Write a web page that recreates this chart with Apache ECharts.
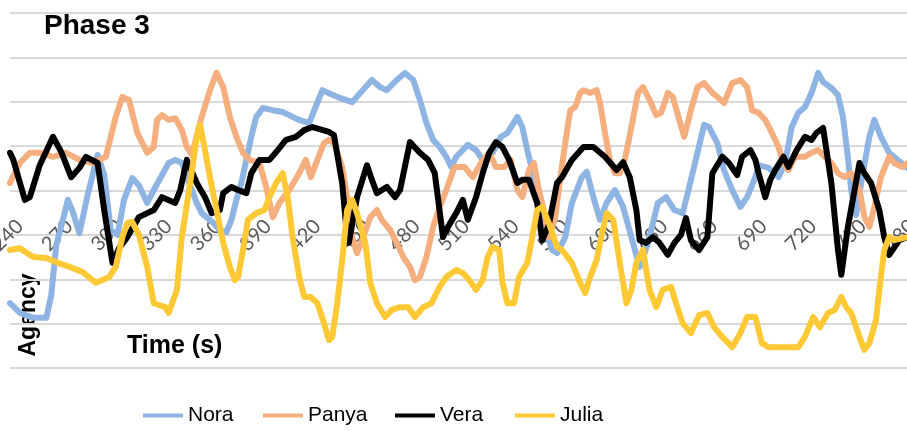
<!DOCTYPE html>
<html><head><meta charset="utf-8">
<script src="https://cdn.jsdelivr.net/npm/echarts@6/dist/echarts.min.js"></script>
<style>html,body{margin:0;padding:0;background:#fff}#c{width:907px;height:431px}</style>
</head><body><div id="c"></div>
<script>
const tickLabels = [240,270,300,330,360,390,420,450,480,510,540,570,600,630,660,690,720,750,780];
const seriesNames = ['Nora','Panya','Vera','Julia'];

const nora = [[234,1.46],[240,1.24],[248,1.13],[256,1.13],[259,1.65],[262,2.77],[266,3.34],[269,3.79],[272,3.52],[276,3.04],[281,3.90],[287,4.80],[291,4.35],[295,3.11],[299,3.00],[303,3.79],[308,4.28],[312,4.12],[317,3.72],[321,4.01],[326,4.35],[330,4.62],[334,4.69],[338,4.62],[341,4.30],[347,3.72],[350,3.49],[357,3.27],[361,3.11],[365,3.06],[368,3.34],[371,3.79],[374,4.17],[377,4.69],[380,5.21],[383,5.66],[387,5.86],[393,5.81],[399,5.77],[405,5.66],[409,5.59],[415,5.52],[423,6.26],[432,6.11],[441,5.99],[446,6.20],[453,6.49],[458,6.33],[462,6.26],[468,6.49],[473,6.65],[478,6.49],[482,6.04],[486,5.52],[490,5.14],[494,4.98],[498,4.76],[501,4.53],[504,4.76],[511,5.03],[516,4.91],[520,4.69],[526,4.85],[531,5.21],[535,5.30],[541,5.66],[544,5.43],[547,4.91],[551,4.30],[554,3.72],[558,3.11],[562,2.66],[565,2.59],[570,2.95],[574,3.72],[580,4.30],[583,4.42],[587,3.85],[591,3.34],[595,3.72],[600,4.01],[605,3.63],[610,2.95],[615,2.28],[618,2.59],[622,3.11],[626,3.72],[631,3.85],[636,3.56],[641,3.49],[645,4.08],[650,4.85],[654,5.48],[657,5.43],[662,5.07],[666,4.46],[671,4.01],[676,3.63],[680,3.85],[685,4.30],[687,4.57],[693,4.51],[699,4.30],[703,4.62],[707,5.43],[711,5.75],[715,5.88],[719,6.20],[723,6.65],[726,6.45],[731,6.31],[735,6.15],[738,5.66],[741,4.76],[743,4.01],[746,3.45],[749,4.17],[754,5.21],[757,5.59],[761,5.21],[766,4.85],[771,4.69],[777,4.51],[781,4.46]];

const panya = [[234,4.17],[240,4.62],[246,4.85],[252,4.85],[260,4.76],[268,4.85],[276,4.69],[284,4.62],[292,4.76],[298,5.66],[302,6.11],[306,6.04],[311,5.30],[317,4.85],[321,4.98],[323,5.59],[326,5.70],[330,5.59],[334,5.63],[338,5.36],[341,4.98],[344,4.80],[350,5.66],[355,6.26],[359,6.65],[363,6.33],[367,5.66],[371,5.21],[375,4.85],[379,4.69],[385,4.62],[389,4.08],[393,3.40],[397,3.72],[403,4.01],[409,4.39],[413,4.69],[416,4.30],[420,4.69],[424,5.07],[427,5.14],[430,5.07],[435,4.53],[438,3.85],[441,2.95],[444,2.59],[447,2.88],[452,3.40],[456,3.56],[459,3.34],[464,3.11],[468,2.82],[472,2.50],[476,2.28],[479,1.98],[482,2.05],[486,2.50],[490,3.18],[494,3.63],[498,4.01],[503,4.53],[509,4.53],[514,4.30],[519,4.62],[524,4.85],[528,4.53],[533,4.53],[537,4.69],[541,4.01],[544,3.85],[548,4.46],[551,4.62],[554,4.01],[558,3.40],[560,2.95],[564,3.40],[567,4.30],[570,5.07],[573,5.81],[576,5.88],[579,6.20],[581,6.26],[585,6.20],[589,6.26],[591,5.97],[594,5.30],[597,4.69],[600,4.39],[603,4.39],[606,4.69],[610,5.43],[614,6.20],[617,6.33],[621,6.04],[625,5.70],[628,5.75],[632,6.20],[635,6.11],[639,5.59],[642,5.21],[646,5.81],[650,6.33],[654,6.42],[659,6.20],[662,6.11],[666,5.97],[671,6.42],[676,6.49],[680,6.33],[683,5.81],[687,5.75],[691,5.59],[695,5.30],[699,4.98],[702,4.62],[705,4.46],[709,4.76],[715,4.76],[719,4.85],[723,4.91],[727,4.76],[731,4.62],[735,4.39],[739,4.30],[743,4.39],[748,4.01],[751,3.40],[754,3.18],[757,3.63],[761,4.30],[766,4.76],[769,4.62],[774,4.53],[777,4.62],[781,4.69]];

const vera = [[234,4.85],[236,4.69],[243,3.79],[246,3.85],[252,4.57],[260,5.21],[265,4.87],[271,4.30],[276,4.51],[280,4.76],[287,4.62],[291,3.56],[296,2.37],[300,2.70],[305,2.95],[312,3.40],[321,3.56],[326,3.85],[334,3.72],[337,4.01],[341,4.69],[347,4.17],[352,3.85],[356,3.49],[361,3.56],[363,3.94],[368,4.08],[372,4.01],[377,3.94],[380,4.39],[385,4.69],[391,4.69],[396,4.91],[401,5.14],[407,5.21],[412,5.36],[417,5.43],[427,5.32],[430,5.25],[435,4.17],[438,2.95],[439,2.82],[444,3.85],[450,4.57],[453,4.24],[456,3.94],[462,4.08],[467,3.85],[470,4.01],[476,5.09],[482,4.85],[487,4.69],[491,4.39],[496,2.95],[499,3.18],[504,3.49],[508,3.79],[511,3.34],[516,3.85],[520,4.39],[524,4.85],[528,5.09],[532,4.98],[536,4.69],[541,4.17],[544,4.24],[548,4.24],[553,3.72],[556,2.88],[560,3.22],[565,4.17],[568,4.30],[574,4.69],[581,4.98],[587,4.98],[594,4.76],[601,4.46],[605,4.64],[609,4.30],[613,3.56],[615,2.88],[619,2.82],[623,2.95],[627,2.82],[632,2.55],[636,2.82],[640,3.00],[643,3.38],[646,2.88],[651,2.66],[656,2.95],[659,4.39],[665,4.76],[669,4.62],[674,4.35],[677,4.76],[682,4.91],[685,4.69],[687,4.39],[691,3.85],[694,4.24],[697,4.46],[702,4.76],[705,4.53],[710,4.91],[715,5.21],[719,5.14],[722,5.30],[726,5.41],[731,4.17],[735,2.66],[737,2.10],[741,3.18],[748,4.62],[751,4.39],[755,4.17],[760,3.56],[763,2.95],[766,2.55],[772,2.88],[777,2.95],[781,3.00]];

const julia = [[234,2.66],[240,2.70],[248,2.50],[256,2.48],[263,2.37],[270,2.28],[278,2.16],[286,1.92],[294,2.05],[298,2.28],[302,2.95],[305,3.27],[308,3.29],[312,3.00],[317,2.28],[321,1.46],[324,1.42],[328,1.37],[330,1.24],[335,1.76],[338,2.95],[343,4.17],[347,5.21],[349,5.48],[352,4.91],[355,4.30],[359,3.56],[363,2.82],[367,2.28],[370,1.98],[372,2.05],[375,2.66],[378,3.34],[383,3.49],[388,3.56],[391,3.85],[395,4.17],[399,4.39],[402,3.85],[405,2.95],[409,2.05],[412,1.60],[416,1.60],[420,1.46],[424,1.01],[427,0.63],[429,0.70],[432,1.46],[435,2.43],[438,3.56],[441,3.79],[444,3.49],[449,2.82],[452,1.92],[456,1.46],[461,1.15],[465,1.31],[470,1.37],[475,1.37],[479,1.15],[484,1.37],[489,1.46],[494,1.83],[498,2.05],[504,2.21],[508,2.14],[512,1.98],[516,1.76],[520,1.98],[523,2.50],[526,2.73],[530,2.66],[532,1.92],[535,1.46],[539,1.46],[542,2.05],[547,2.37],[550,2.95],[553,3.56],[556,3.63],[560,3.27],[565,2.73],[568,2.66],[574,2.37],[579,1.92],[582,1.69],[585,2.05],[589,2.43],[591,2.82],[595,3.49],[599,3.34],[603,2.37],[607,1.46],[610,1.76],[613,2.37],[617,2.66],[621,1.76],[625,1.37],[629,1.76],[634,1.83],[637,1.46],[641,1.01],[646,0.79],[651,1.19],[656,1.24],[660,0.92],[665,0.70],[671,0.47],[676,0.79],[680,1.15],[685,1.15],[689,0.56],[693,0.47],[711,0.47],[715,0.70],[720,1.15],[724,0.92],[729,1.24],[733,1.31],[737,1.60],[740,1.37],[743,1.24],[748,0.70],[751,0.41],[754,0.56],[758,1.08],[760,1.76],[763,2.66],[766,2.95],[769,2.88],[777,2.95],[781,3.00]];

const colors = ['#8EB4E3','#F5AE7E','#000000','#FFC936'];
const dataSets = [nora, panya, vera, julia];
const legendLefts = [143, 263, 395, 515];

const chart = echarts.init(document.getElementById('c'), null, {renderer:'canvas'});
chart.setOption({
  animation: false,
  backgroundColor: '#ffffff',
  grid: {left: 10, right: -7, top: 13, bottom: 63, containLabel: false, outerBoundsMode: 'none'},
  xAxis: {
    type: 'value', min: 234, max: 781,
    axisLine: {show: false}, axisTick: {show: false}, splitLine: {show: false},
    axisLabel: {
      customValues: tickLabels, rotate: 45, margin: -145, hideOverlap: false,
      color: '#595959', fontSize: 20, fontFamily: 'Lato, "Liberation Sans", sans-serif'
    }
  },
  yAxis: {
    type: 'value', min: 0, max: 8, interval: 1,
    axisLine: {show: false}, axisTick: {show: false}, axisLabel: {show: false},
    splitLine: {lineStyle: {color: '#D9D9D9', width: 2}}
  },
  legend: seriesNames.map((n, i) => ({
    data: [{name: n, icon: 'rect'}], left: legendLefts[i], top: 405, padding: 0, itemGap: 4,
    itemWidth: 40, itemHeight: 4,
    textStyle: {fontSize: 21, color: '#000', fontFamily: '"Liberation Sans Narrow", "Liberation Sans", sans-serif'}
  })),
  graphic: [
    {type: 'text', left: 44, top: 12, style: {text: 'Phase 3', fontSize: 28, fontWeight: 'bold', fill: '#000', fontFamily: '"Liberation Sans", Arial, sans-serif'}},
    {type: 'text', left: 127, top: 334, style: {text: 'Time (s)', fontSize: 25, fontWeight: 'bold', fill: '#000', fontFamily: '"Liberation Sans", Arial, sans-serif'}},
    {type: 'text', x: 29, y: 315, rotation: Math.PI / 2, style: {text: 'Agency', fontSize: 23, fontWeight: 'bold', fill: '#000', align: 'center', verticalAlign: 'middle', fontFamily: '"Liberation Sans", Arial, sans-serif'}}
  ],
  series: seriesNames.map((n, i) => ({
    name: n, type: 'line', data: dataSets[i], showSymbol: false, symbol: 'none',
    color: colors[i],
    lineStyle: {color: colors[i], width: 6, join: 'round', cap: 'round'}
  }))
});
</script>
</body></html>
